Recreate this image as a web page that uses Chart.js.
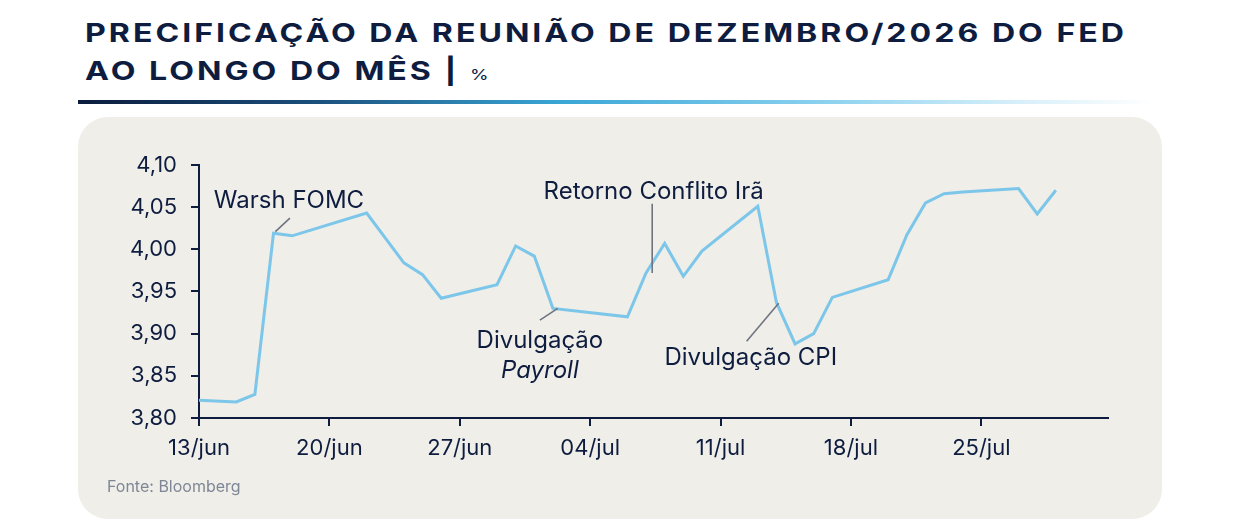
<!DOCTYPE html>
<html>
<head>
<meta charset="utf-8">
<script src="https://cdn.jsdelivr.net/npm/chart.js@4.4.1/dist/chart.umd.min.js"></script>
<style>
  html, body { margin: 0; padding: 0; background: #ffffff; }
  body { width: 1240px; height: 521px; position: relative; overflow: hidden; font-family: Inter, "Noto Sans", sans-serif; }
  #title {
    position: absolute; left: 85px; top: 14px;
    color: #0e1d3f; font-weight: 700; font-size: 25.5px; line-height: 38px;
    letter-spacing: 1px; white-space: nowrap;
    transform: scaleX(1.26); transform-origin: 0 0;
  }
  #title .unit { font-size: 15px; font-weight: 400; letter-spacing: 0; }
  #rule {
    position: absolute; left: 78px; top: 100px; width: 1076px; height: 4px;
    background: linear-gradient(90deg, #0b1c3d 0%, #1b4f7c 22%, #3aa7d6 45%, #86cfee 68%, #d9f0fa 88%, #ffffff 100%);
  }
  #panel {
    position: absolute; left: 78px; top: 117px; width: 1084px; height: 402px;
    background: #efeee9; border-radius: 30px;
  }
  #wrap { position: absolute; left: 0; top: 0; width: 1084px; height: 402px; }
  #source {
    position: absolute; left: 29px; top: 359px;
    color: #7f8796; font-size: 16px;
  }
</style>
</head>
<body>
<div id="title"><span id="t1">PRECIFICAÇÃO DA REUNIÃO DE DEZEMBRO/2026 DO FED</span><br>AO LONGO DO MÊS | <span class="unit">%</span></div>
<div id="rule"></div>
<div id="panel">
  <div id="wrap"><canvas id="myChart"></canvas></div>
  <div id="source">Fonte: Bloomberg</div>
</div>
<script>
// datas e precificação (%)
const dates = [
  "2026-06-13", "2026-06-15", "2026-06-16", "2026-06-17", "2026-06-18",
  "2026-06-22", "2026-06-24", "2026-06-25", "2026-06-26", "2026-06-29",
  "2026-06-30", "2026-07-01", "2026-07-02", "2026-07-06", "2026-07-07",
  "2026-07-08", "2026-07-09", "2026-07-10", "2026-07-13", "2026-07-14",
  "2026-07-15", "2026-07-16", "2026-07-17", "2026-07-20", "2026-07-21",
  "2026-07-22", "2026-07-23", "2026-07-24", "2026-07-27", "2026-07-28",
  "2026-07-29"
];
const pricing = [
  3.821, 3.819, 3.828, 4.019, 4.016,
  4.043, 3.984, 3.970, 3.942, 3.958,
  4.004, 3.992, 3.930, 3.920, 3.972,
  4.007, 3.968, 3.998, 4.051, 3.937,
  3.888, 3.900, 3.943, 3.964, 4.017,
  4.055, 4.066, 4.068, 4.072, 4.042,
  4.070
];
const xTickLabels = ["13/jun", "20/jun", "27/jun", "04/jul", "11/jul", "18/jul", "25/jul"];

// título: espaçamento ajustado para ocupar a largura do original
(() => {
  const t = document.getElementById("title");
  const t1 = document.getElementById("t1");
  t.style.letterSpacing = "0px";
  const w = t1.getBoundingClientRect().width;
  const n = t1.textContent.length;
  t.style.letterSpacing = Math.max(0, (1042 - w) / (n * 1.26)) + "px";
})();

const NAVY = "#0e1d3f";
const day0 = Date.UTC(2026, 5, 13);
const dayIndex = s => {
  const [y, m, d] = s.split("-").map(Number);
  return Math.round((Date.UTC(y, m - 1, d) - day0) / 86400000);
};
const points = dates.map((d, i) => ({ x: dayIndex(d), y: pricing[i] }));

// anotações em coordenadas de dados (dia, %)
const notes = [
  { lines: [["Warsh FOMC", false]], x: 4.83, y: 4.058,
    from: [4.1, 4.021], to: [4.88, 4.037] },
  { lines: [["Retorno Conflito Irã", false]], x: 24.41, y: 4.068,
    from: [24.33, 3.972], to: [24.33, 4.054] },
  { lines: [["Divulgação", false], ["Payroll", true]], x: 18.3, y: 3.892, dy: 0.0357,
    from: [19.26, 3.930], to: [18.3, 3.916] },
  { lines: [["Divulgação CPI", false]], x: 29.62, y: 3.871,
    from: [31.12, 3.936], to: [29.4, 3.891] }
];

const notesPlugin = {
  id: "notes",
  afterDatasetsDraw(chart) {
    const { ctx, scales: { x, y } } = chart;
    ctx.save();
    notes.forEach(n => {
      ctx.strokeStyle = "#6e7480";
      ctx.lineWidth = 1.6;
      ctx.beginPath();
      ctx.moveTo(x.getPixelForValue(n.from[0]), y.getPixelForValue(n.from[1]));
      ctx.lineTo(x.getPixelForValue(n.to[0]), y.getPixelForValue(n.to[1]));
      ctx.stroke();
      ctx.fillStyle = NAVY;
      ctx.textAlign = "center";
      ctx.textBaseline = "middle";
      n.lines.forEach(([t, it], k) => {
        ctx.font = (it ? "italic " : "") + "400 24px Inter, 'Noto Sans', sans-serif";
        ctx.fillText(t, x.getPixelForValue(n.x), y.getPixelForValue(n.y - k * (n.dy || 0)));
      });
    });
    ctx.restore();
  }
};

new Chart(document.getElementById("myChart"), {
  type: "line",
  data: {
    datasets: [{
      label: "Precificação",
      data: points,
      borderColor: "#7cc6ea",
      borderWidth: 3,
      pointRadius: 0,
      tension: 0,
      fill: false
    }]
  },
  options: {
    responsive: true,
    maintainAspectRatio: false,
    animation: false,
    layout: { padding: { top: 48, right: 54, left: 0, bottom: 0 } },
    plugins: {
      legend: { display: false },
      tooltip: { enabled: false }
    },
    scales: {
      x: {
        type: "linear",
        min: 0,
        max: 48.8,
        afterBuildTicks: axis => { axis.ticks = axis.ticks.filter(t => t.value % 7 === 0); },
        afterFit: axis => { axis.height = 101; },
        grid: { drawOnChartArea: false, drawTicks: true, tickLength: 8, color: NAVY, lineWidth: 2 },
        border: { display: true, color: NAVY, width: 2 },
        ticks: {
          stepSize: 7,
          maxRotation: 0,
          autoSkip: false,
          padding: 9,
          color: NAVY,
          font: { size: 22, family: "Inter, 'Noto Sans', sans-serif" },
          callback: v => xTickLabels[v / 7] ?? ""
        }
      },
      y: {
        min: 3.8,
        max: 4.1,
        afterFit: axis => { axis.width = 121; },
        grid: { drawOnChartArea: false, drawTicks: true, tickLength: 8, color: NAVY, lineWidth: 2 },
        border: { display: true, color: NAVY, width: 2 },
        ticks: {
          stepSize: 0.05,
          padding: 14,
          color: NAVY,
          font: { size: 22, family: "Inter, 'Noto Sans', sans-serif" },
          callback: v => v.toFixed(2).replace(".", ",")
        }
      }
    }
  },
  plugins: [notesPlugin]
});
</script>
</body>
</html>
